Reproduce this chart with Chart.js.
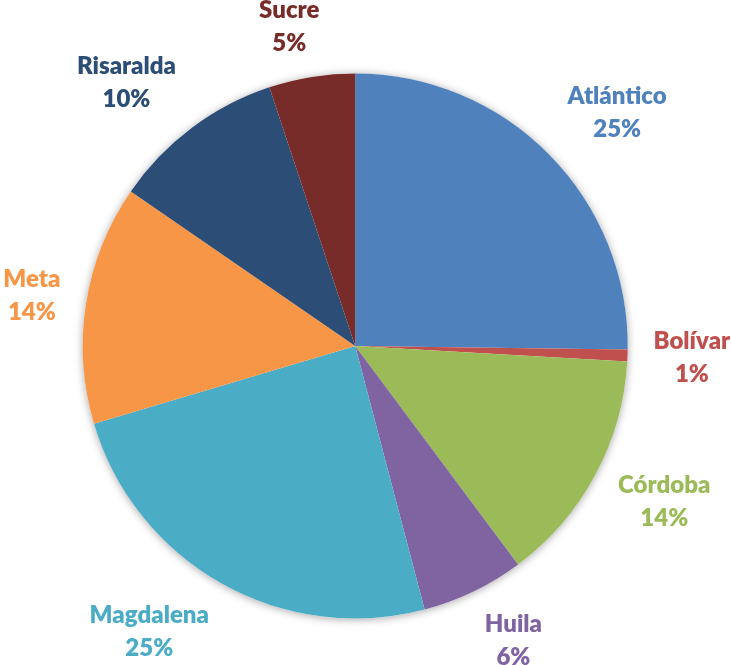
<!DOCTYPE html>
<html>
<head>
<meta charset="utf-8">
<script src="https://cdn.jsdelivr.net/npm/chart.js@4"></script>
<style>
html,body{margin:0;padding:0;background:#fff;}
canvas{display:block;}
</style>
</head>
<body>
<canvas id="c" width="731" height="665"></canvas>
<script>
const categories = ["Atlántico", "Bolívar", "Córdoba", "Huila", "Magdalena", "Meta", "Risaralda", "Sucre"];
const values = [25.2, 0.7, 13.9, 6.1, 24.5, 14.2, 10.3, 5.1];
const colors = ["#4F81BD", "#C0504D", "#9BBB59", "#8064A2", "#4BACC6", "#F79646", "#2C4D75", "#772C2A"];

const total = values.reduce((a, b) => a + b, 0);

const shadowPlugin = {
  id: 'pieShadow',
  beforeDatasetsDraw(chart) {
    const arc = chart.getDatasetMeta(0).data[0];
    if (!arc) return;
    const ctx = chart.ctx;
    ctx.save();
    ctx.shadowColor = 'rgba(0,0,0,0.35)';
    ctx.shadowBlur = 9;
    ctx.shadowOffsetX = 0;
    ctx.shadowOffsetY = 1;
    ctx.fillStyle = '#ffffff';
    ctx.beginPath();
    ctx.arc(arc.x, arc.y, arc.outerRadius, 0, Math.PI * 2);
    ctx.fill();
    ctx.restore();
  }
};

const labelPlugin = {
  id: 'outsideLabels',
  afterDatasetsDraw(chart) {
    const ctx = chart.ctx;
    const meta = chart.getDatasetMeta(0);
    const fontSize = 24, lineGap = 33, gap = 26;
    ctx.save();
    ctx.font = '800 ' + fontSize + 'px Lato, "Open Sans", sans-serif';
    ctx.textAlign = 'center';
    ctx.textBaseline = 'alphabetic';
    meta.data.forEach((arc, i) => {
      const mid = (arc.startAngle + arc.endAngle) / 2;
      const ux = Math.cos(mid), uy = Math.sin(mid);
      const line1 = categories[i];
      const line2 = Math.round(values[i] / total * 100) + '%';
      const w = Math.max(ctx.measureText(line1).width, ctx.measureText(line2).width);
      const h = 50;
      const m = Math.max(Math.abs(ux), Math.abs(uy));
      const sx = Math.sign(ux) * Math.min(1, Math.abs(ux) * 3.8);
      const sy = uy / m;
      const R = arc.outerRadius + gap;
      const cx = arc.x + R * ux + sx * w / 2;
      const cy = arc.y + R * uy + sy * h / 2;
      ctx.fillStyle = colors[i];
      ctx.fillText(line1, cx, cy - 8);
      ctx.fillText(line2, cx, cy - 8 + lineGap);
    });
    ctx.restore();
  }
};

new Chart(document.getElementById('c'), {
  type: 'pie',
  data: {
    labels: categories,
    datasets: [{
      data: values,
      backgroundColor: colors,
      borderWidth: 0
    }]
  },
  options: {
    responsive: false,
    animation: false,
    layout: { padding: { left: 82.7, top: 73.5, right: 103.3, bottom: 46.5 } },
    plugins: {
      legend: { display: false },
      tooltip: { enabled: false }
    }
  },
  plugins: [shadowPlugin, labelPlugin]
});
</script>
</body>
</html>
